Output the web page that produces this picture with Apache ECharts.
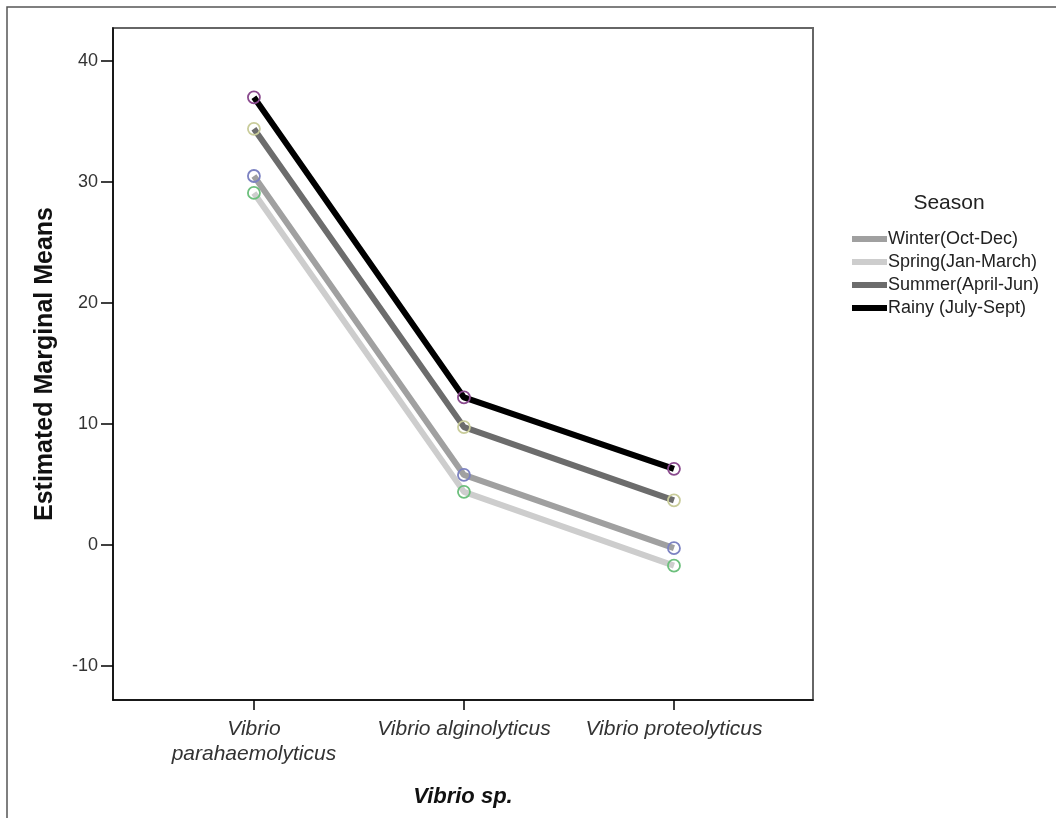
<!DOCTYPE html>
<html>
<head>
<meta charset="utf-8">
<script src="https://cdn.jsdelivr.net/npm/echarts@6/dist/echarts.min.js"></script>
<style>
html,body{margin:0;padding:0;background:#fff;}
#chart{width:1056px;height:818px;}
</style>
</head>
<body>
<div id="chart"></div>
<script>
const categories = ["Vibrio\nparahaemolyticus", "Vibrio alginolyticus", "Vibrio proteolyticus"];
const seriesNames = ["Winter(Oct-Dec)", "Spring(Jan-March)", "Summer(April-Jun)", "Rainy (July-Sept)"];
const winter = [30.5, 5.8, -0.25];
const spring = [29.1, 4.4, -1.7];
const summer = [34.4, 9.75, 3.7];
const rainy = [37.0, 12.2, 6.3];
const yTicks = [-10, 0, 10, 20, 30, 40];

const lineColors = ["#a0a0a0", "#cdcdcd", "#6c6c6c", "#000000"];
const markerColors = ["#7c82c2", "#6cbf7c", "#c9cc9a", "#8a4a8e"];
const allData = [winter, spring, summer, rainy];
const FONT = '"Liberation Sans", Arial, sans-serif';

const chart = echarts.init(document.getElementById('chart'), null, {renderer: 'canvas'});
const series = allData.map((vals, i) => ({
  name: seriesNames[i],
  type: 'line',
  data: vals.map((v, j) => [j, v]),
  symbol: 'circle',
  symbolSize: 12,
  z: 2 + i,
  lineStyle: {color: lineColors[i], width: 6},
  itemStyle: {color: 'rgba(0,0,0,0)', borderColor: markerColors[i], borderWidth: 1.8},
  emphasis: {disabled: true}
}));

chart.setOption({
  animation: false,
  backgroundColor: '#fff',
  graphic: [{
    type: 'rect',
    shape: {x: 7, y: 7, width: 1200, height: 1000},
    style: {fill: 'none', stroke: '#555', lineWidth: 1.5},
    silent: true
  }, {
    type: 'text',
    x: 949, y: 203,
    style: {text: 'Season', font: '21px "Liberation Sans", Arial, sans-serif', fill: '#222', align: 'center', verticalAlign: 'middle'}
  }],
  grid: {left: 113, top: 28, width: 700, height: 672, show: true, borderColor: '#666', borderWidth: 2, containLabel: false},
  legend: {
    orient: 'vertical',
    left: 852, top: 230,
    padding: 0,
    icon: 'rect',
    itemWidth: 35, itemHeight: 6,
    itemGap: 5,
    data: seriesNames.map((n, i) => ({name: n, itemStyle: {color: lineColors[i], borderWidth: 0}})),
    textStyle: {fontFamily: FONT, fontSize: 18, color: '#222', padding: [0, 0, 0, -4], lineHeight: 18}
  },
  xAxis: {
    type: 'value',
    min: -0.671, max: 2.662,
    name: 'Vibrio sp.',
    nameLocation: 'middle',
    nameGap: 86,
    nameTextStyle: {fontFamily: FONT, fontSize: 22, fontWeight: 'bold', fontStyle: 'italic', color: '#111'},
    axisLine: {show: true, onZero: false, lineStyle: {color: '#000', width: 1.5}},
    axisTick: {show: true, length: 10, customValues: [0, 1, 2], lineStyle: {color: '#000', width: 1.5}},
    axisLabel: {customValues: [0, 1, 2], formatter: v => categories[Math.round(v)], margin: 17,
      fontFamily: FONT, fontSize: 21, fontStyle: 'italic', color: '#333', lineHeight: 25},
    splitLine: {show: false}
  },
  yAxis: {
    type: 'value',
    min: -12.8, max: 42.73,
    name: 'Estimated Marginal Means',
    nameLocation: 'middle',
    nameGap: 55,
    nameTextStyle: {fontFamily: FONT, fontSize: 25, fontWeight: 'bold', color: '#111'},
    axisLine: {show: true, onZero: false, lineStyle: {color: '#000', width: 1.5}},
    axisTick: {show: true, length: 12, customValues: yTicks, lineStyle: {color: '#000', width: 1.5}},
    axisLabel: {customValues: yTicks, margin: 15, fontFamily: FONT, fontSize: 18, color: '#333'},
    splitLine: {show: false}
  },
  series: series
});
</script>
</body>
</html>
